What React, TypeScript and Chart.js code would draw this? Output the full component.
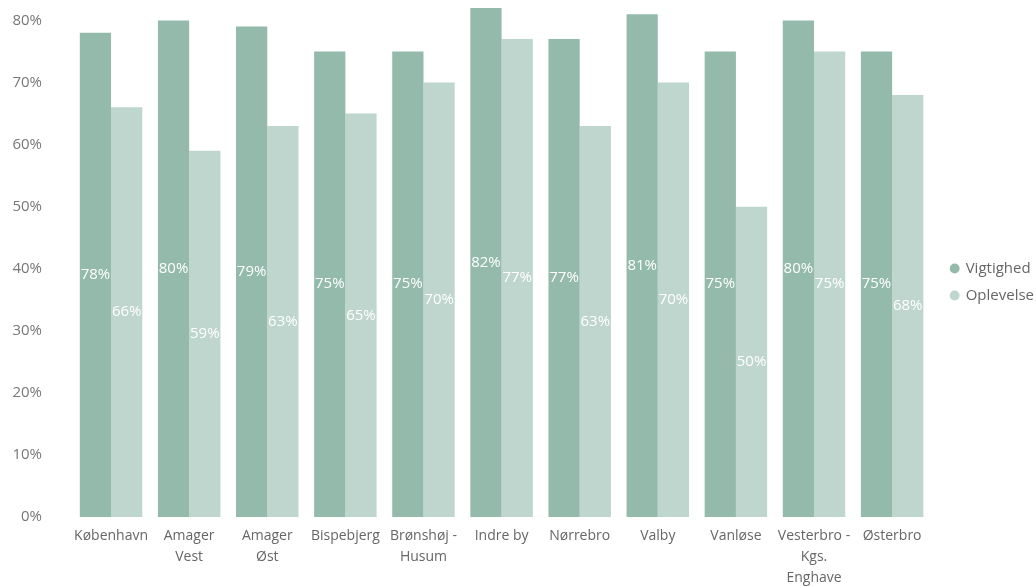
import React, { useEffect, useRef } from "react";
import { Chart, registerables } from "chart.js";

Chart.register(...registerables);

const categories: (string | string[])[] = [
  "København",
  ["Amager", "Vest"],
  ["Amager", "Øst"],
  "Bispebjerg",
  ["Brønshøj -", "Husum"],
  "Indre by",
  "Nørrebro",
  "Valby",
  "Vanløse",
  ["Vesterbro -", "Kgs.", "Enghave"],
  "Østerbro",
];
const vigtighed = [78, 80, 79, 75, 75, 82, 77, 81, 75, 80, 75];
const oplevelse = [66, 59, 63, 65, 70, 77, 63, 70, 50, 75, 68];
const yTicks = [0, 10, 20, 30, 40, 50, 60, 70, 80];

const FONT = "'Open Sans', 'Noto Sans', sans-serif";

const labelPlugin = {
  id: "centerLabels",
  afterLayout(chart: any) {
    if (chart.legend) {
      chart.legend.bottom -= 30;
      chart.legend.left += 8;
      chart.legend.right += 8;
    }
  },
  afterDatasetsDraw(chart: any) {
    const ctx = chart.ctx;
    ctx.save();
    ctx.font = `15px ${FONT}`;
    ctx.fillStyle = "#ffffff";
    ctx.textAlign = "center";
    ctx.textBaseline = "middle";
    chart.data.datasets.forEach((ds: any, i: number) => {
      const meta = chart.getDatasetMeta(i);
      meta.data.forEach((bar: any, j: number) => {
        const y = (bar.y + bar.base) / 2;
        ctx.fillText(`${ds.data[j]}%`, bar.x, y);
      });
    });
    ctx.restore();
  },
};

export default function App() {
  const ref = useRef<HTMLCanvasElement | null>(null);
  useEffect(() => {
    if (!ref.current) return;
    const chart = new Chart(ref.current, {
      type: "bar",
      data: {
        labels: categories,
        datasets: [
          {
            label: "Vigtighed",
            data: vigtighed,
            backgroundColor: "#93BAAB",
            borderWidth: 0,
            categoryPercentage: 0.8,
            barPercentage: 1.0,
          },
          {
            label: "Oplevelse",
            data: oplevelse,
            backgroundColor: "#BFD6CE",
            borderWidth: 0,
            categoryPercentage: 0.8,
            barPercentage: 1.0,
          },
        ],
      },
      options: {
        animation: false,
        responsive: false,
        maintainAspectRatio: false,
        layout: { padding: { left: 10, top: 8, right: 0, bottom: 0 } },
        plugins: {
          tooltip: { enabled: false },
          legend: {
            position: "right",
            align: "center",
            labels: {
              usePointStyle: true,
              pointStyle: "circle",
              boxWidth: 7,
              boxHeight: 7,
              padding: 12,
              color: "#666666",
              font: { family: FONT, size: 15 },
            },
          },
        },
        scales: {
          x: {
            grid: { display: false, drawTicks: false },
            border: { display: false },
            afterFit: (s: any) => {
              s.height = 69;
            },
            ticks: {
              color: "#666666",
              font: { family: FONT, size: 14, lineHeight: 1.5 },
              maxRotation: 0,
              autoSkip: false,
              padding: 9,
            },
          },
          y: {
            min: 0,
            max: 82,
            grid: { display: false, drawTicks: false },
            border: { display: false },
            afterBuildTicks: (s: any) => {
              s.ticks = yTicks.map((v) => ({ value: v }));
            },
            afterFit: (s: any) => {
              s.width = 62;
              s.paddingTop = 0;
              s.paddingBottom = 0;
            },
            ticks: {
              color: "#777777",
              padding: 30,
              font: { family: FONT, size: 15 },
              callback: (v: any) => `${v}%`,
            },
          },
        },
      },
      plugins: [labelPlugin],
    });
    return () => chart.destroy();
  }, []);
  return (
    <div style={{ position: "fixed", left: 0, top: 0, width: 1036, height: 586, background: "#fff" }}>
      <canvas ref={ref} width={1036} height={586} />
    </div>
  );
}
